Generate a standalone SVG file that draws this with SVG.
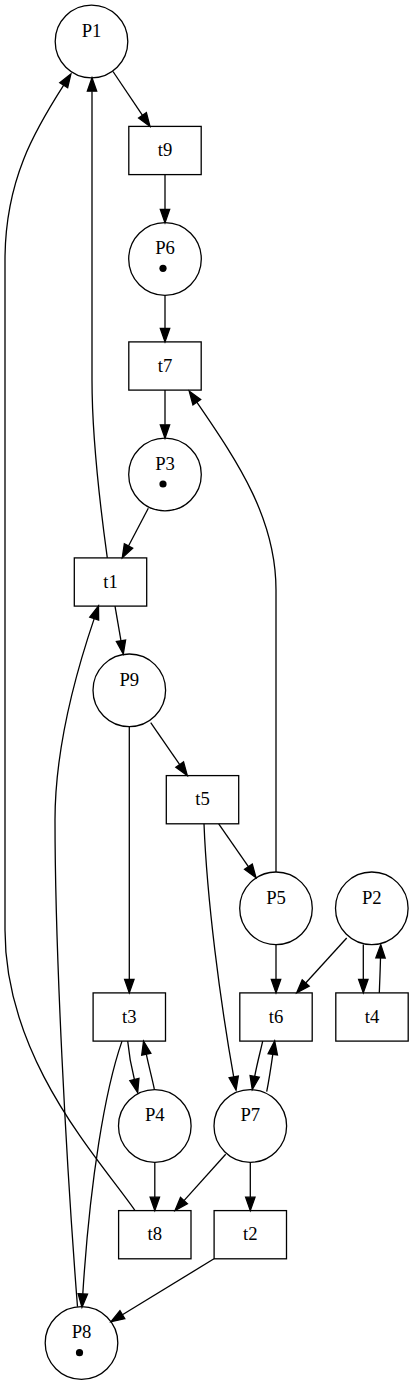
<svg xmlns="http://www.w3.org/2000/svg" width="413" height="1384" viewBox="0 0 413 1384">
<style>
.place{fill:none;stroke:#000;stroke-width:1.3}
.trans{fill:none;stroke:#000;stroke-width:1.3}
.token{fill:#000;stroke:none}
.lbl{font-family:"Liberation Serif","Times New Roman",serif;font-size:18.7px;fill:#000;text-anchor:middle}
.edge{fill:none;stroke:#000;stroke-width:1.3;marker-end:url(#ah)}
</style>
<defs>
<marker id="ah" markerUnits="userSpaceOnUse" markerWidth="16" markerHeight="12" refX="0" refY="0" viewBox="-1 -6 16 12" orient="auto" overflow="visible">
<path d="M0,-4.7 L13.4,0 L0,4.7 Z" fill="#000" stroke="#000" stroke-width="1.3"/>
</marker>
</defs>
<rect width="413" height="1384" fill="#fff"/>
<g id="edges">
<path class="edge" d="M113,71.5 L142.5,115.3"/>
<path class="edge" d="M165,174.6 L165,209.3"/>
<path class="edge" d="M165,295.3 L165,328.5"/>
<path class="edge" d="M165,390.1 L165,424.8"/>
<path class="edge" d="M148.3,508.3 L128.5,546"/>
<path class="edge" d="M107.3,557.9 C100,505 92,440 92,380 L92,91.2"/>
<path class="edge" d="M115,606.1 L121,640.8"/>
<path class="edge" d="M77.5,1306.7 C66,1160 55,950 55,820 C55,760 70,690 94.2,618.6"/>
<path class="edge" d="M129.3,726.6 L129.3,979.5"/>
<path class="edge" d="M150.7,722.7 L179.7,764.6"/>
<path class="edge" d="M218.7,823.8 L248.4,866.7"/>
<path class="edge" d="M204,823.8 C207,900 220,1000 233.7,1076.9"/>
<path class="edge" d="M276,872 L276,590 C276,520 240,465 196.8,402.2"/>
<path class="edge" d="M276,944.6 L276,979.5"/>
<path class="edge" d="M346.7,938 L305.7,983"/>
<path class="edge" d="M363.3,944.6 L363.3,979.5"/>
<path class="edge" d="M379.3,992.9 C379.8,980 380.3,968 380.5,958"/>
<path class="edge" d="M127.7,1041.1 C129,1055 131,1066 134.4,1079.5"/>
<path class="edge" d="M154.3,1089 C152,1078 149,1067 146.3,1054.2"/>
<path class="edge" d="M262.7,1041.1 C260,1053 257,1064 254.7,1076.4"/>
<path class="edge" d="M266.7,1091.7 C269,1080 271,1067 272.8,1054.3"/>
<path class="edge" d="M154.8,1162.3 L154.8,1197.2"/>
<path class="edge" d="M225.7,1154.3 L184,1200.6"/>
<path class="edge" d="M250.3,1162.3 L250.3,1197.2"/>
<path class="edge" d="M214,1258.8 L122.4,1314.7"/>
<path class="edge" d="M135,1210.6 C100,1160 5,1060 5,930 L5,260 C5,180 35,130 63.7,85.2"/>
<path class="edge" d="M122,1041.1 C105,1090 90,1180 82.8,1293.9"/>
</g>
<g id="P1"><circle class="place" cx="91.5" cy="41.5" r="36.3"/><text class="lbl" x="91.5" y="36.8">P1</text></g>
<g id="t9"><rect class="trans" x="128.8" y="126.4" width="72.4" height="48.2"/><text class="lbl" x="165" y="156">t9</text></g>
<g id="P6"><circle class="place" cx="165" cy="259" r="36.3"/><text class="lbl" x="165" y="254.3">P6</text><circle class="token" cx="163" cy="268.3" r="3.6"/></g>
<g id="t7"><rect class="trans" x="128.8" y="341.9" width="72.4" height="48.2"/><text class="lbl" x="165" y="371.5">t7</text></g>
<g id="P3"><circle class="place" cx="165" cy="474.5" r="36.3"/><text class="lbl" x="165" y="469.8">P3</text><circle class="token" cx="163" cy="484" r="3.6"/></g>
<g id="t1"><rect class="trans" x="74.3" y="557.9" width="72.4" height="48.2"/><text class="lbl" x="110.5" y="587.5">t1</text></g>
<g id="P9"><circle class="place" cx="129.3" cy="690.3" r="36.3"/><text class="lbl" x="129.3" y="685.6">P9</text></g>
<g id="t5"><rect class="trans" x="166.3" y="775.6" width="72.4" height="48.2"/><text class="lbl" x="202.5" y="805.2">t5</text></g>
<g id="P5"><circle class="place" cx="276" cy="908.3" r="36.3"/><text class="lbl" x="276" y="903.6">P5</text></g>
<g id="P2"><circle class="place" cx="371.8" cy="908.3" r="36.3"/><text class="lbl" x="371.8" y="903.6">P2</text></g>
<g id="t3"><rect class="trans" x="93.1" y="992.9" width="72.4" height="48.2"/><text class="lbl" x="129.3" y="1022.5">t3</text></g>
<g id="t6"><rect class="trans" x="239.8" y="992.9" width="72.4" height="48.2"/><text class="lbl" x="276" y="1022.5">t6</text></g>
<g id="t4"><rect class="trans" x="335.8" y="992.9" width="72.4" height="48.2"/><text class="lbl" x="372" y="1022.5">t4</text></g>
<g id="P4"><circle class="place" cx="154.8" cy="1126" r="36.3"/><text class="lbl" x="154.8" y="1121.3">P4</text></g>
<g id="P7"><circle class="place" cx="250.3" cy="1126" r="36.3"/><text class="lbl" x="250.3" y="1121.3">P7</text></g>
<g id="t8"><rect class="trans" x="118.6" y="1210.6" width="72.4" height="48.2"/><text class="lbl" x="154.8" y="1240.2">t8</text></g>
<g id="t2"><rect class="trans" x="214.1" y="1210.6" width="72.4" height="48.2"/><text class="lbl" x="250.3" y="1240.2">t2</text></g>
<g id="P8"><circle class="place" cx="81.5" cy="1343" r="36.3"/><text class="lbl" x="81.5" y="1338.3">P8</text><circle class="token" cx="79.5" cy="1352.7" r="3.6"/></g>
</svg>
